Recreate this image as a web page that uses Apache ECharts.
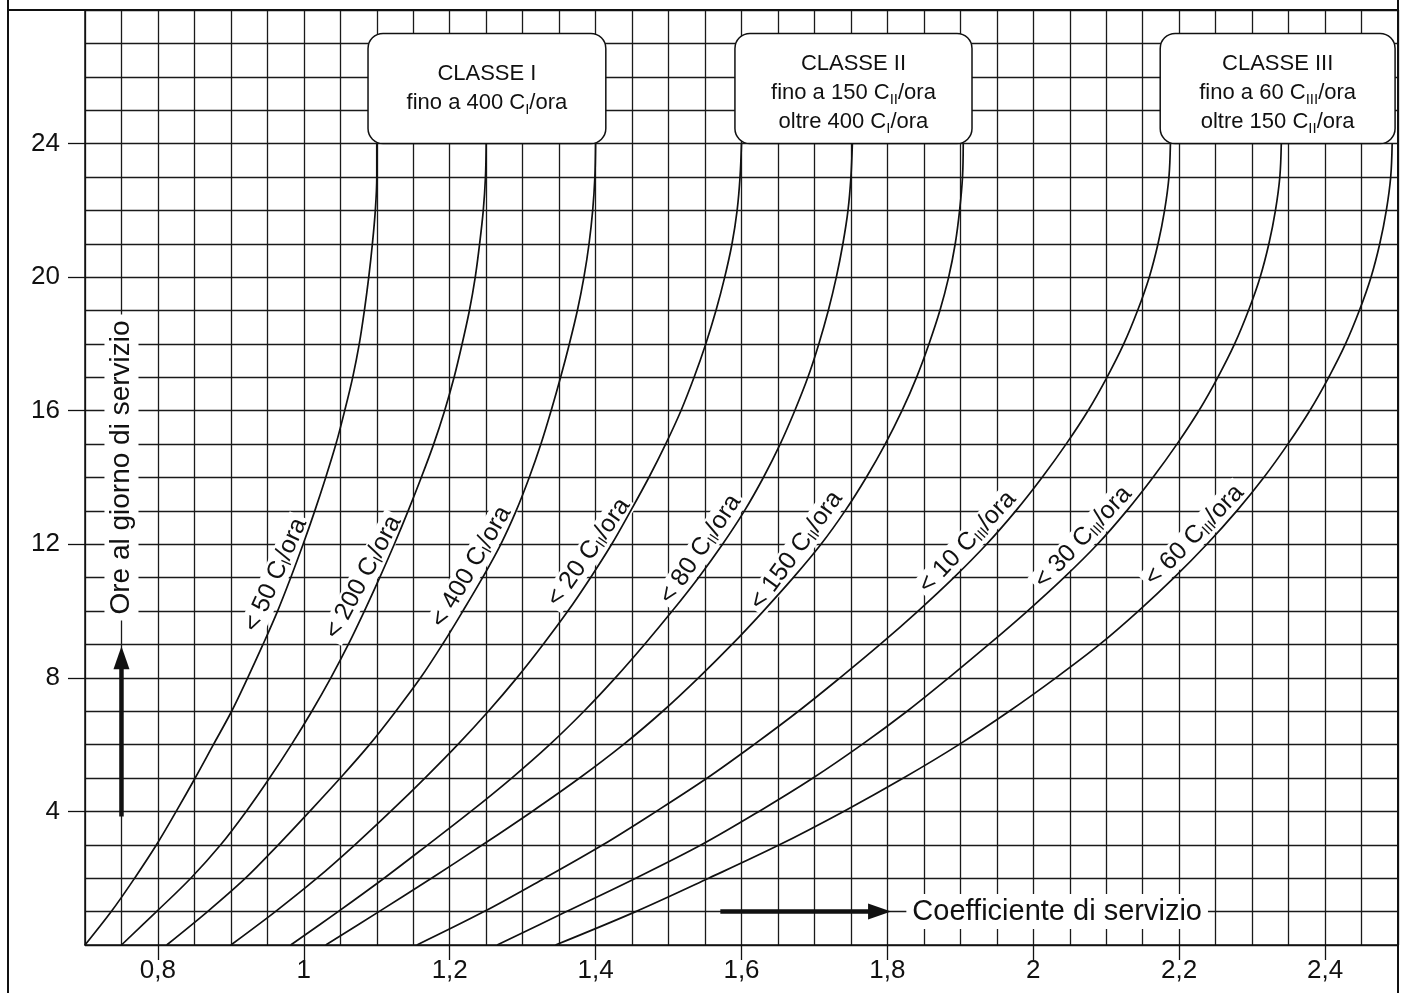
<!DOCTYPE html>
<html>
<head>
<meta charset="utf-8">
<script src="https://cdn.jsdelivr.net/npm/echarts@6/dist/echarts.min.js"></script>
<style>
html, body { margin: 0; padding: 0; background: #fff; }
#chart { width: 1403px; height: 993px; }
</style>
</head>
<body>
<div id="chart"></div>
<script>
// ore al giorno di servizio (asse y)
const hours = [0, 1, 2, 3, 4, 5, 6, 7, 8, 9, 10, 11, 12, 13, 14, 15, 16, 17, 18, 19, 20, 21, 22, 23, 24]

// coefficiente di servizio letto per ogni ora, una curva per fascia
const cI50 = [0.70, 0.736, 0.768, 0.798, 0.825, 0.851, 0.876, 0.901, 0.923, 0.944, 0.964, 0.982, 0.999, 1.015, 1.030, 1.044, 1.056, 1.067, 1.076, 1.083, 1.089, 1.094, 1.098, 1.100, 1.100]
const cI200 = [0.75, 0.798, 0.845, 0.886, 0.921, 0.953, 0.983, 1.011, 1.037, 1.061, 1.083, 1.104, 1.124, 1.143, 1.161, 1.178, 1.193, 1.206, 1.217, 1.227, 1.235, 1.241, 1.246, 1.249, 1.250]
const cI400 = [0.812, 0.868, 0.920, 0.965, 1.008, 1.050, 1.090, 1.126, 1.160, 1.190, 1.218, 1.245, 1.270, 1.291, 1.309, 1.325, 1.339, 1.352, 1.364, 1.375, 1.384, 1.391, 1.396, 1.399, 1.400]
const cII20 = [0.90, 0.961, 1.018, 1.070, 1.119, 1.166, 1.211, 1.253, 1.292, 1.328, 1.362, 1.393, 1.422, 1.448, 1.473, 1.496, 1.517, 1.535, 1.551, 1.565, 1.577, 1.587, 1.594, 1.598, 1.600]
const cII80 = [0.982, 1.047, 1.110, 1.170, 1.229, 1.285, 1.337, 1.384, 1.427, 1.467, 1.505, 1.541, 1.574, 1.604, 1.630, 1.653, 1.673, 1.691, 1.706, 1.719, 1.730, 1.739, 1.746, 1.750, 1.752]
const cII150 = [1.03, 1.103, 1.175, 1.245, 1.313, 1.378, 1.438, 1.492, 1.541, 1.587, 1.630, 1.671, 1.709, 1.742, 1.771, 1.797, 1.820, 1.840, 1.857, 1.872, 1.884, 1.893, 1.899, 1.903, 1.904]
const cIII10 = [1.155, 1.247, 1.330, 1.410, 1.483, 1.553, 1.617, 1.678, 1.735, 1.790, 1.842, 1.891, 1.936, 1.976, 2.012, 2.045, 2.075, 2.101, 2.124, 2.143, 2.159, 2.171, 2.180, 2.186, 2.188]
const cIII30 = [1.265, 1.360, 1.455, 1.545, 1.624, 1.698, 1.765, 1.827, 1.884, 1.939, 1.992, 2.042, 2.088, 2.128, 2.164, 2.197, 2.227, 2.253, 2.276, 2.295, 2.311, 2.323, 2.332, 2.338, 2.340]
const cIII60 = [1.345, 1.455, 1.555, 1.652, 1.740, 1.822, 1.898, 1.967, 2.031, 2.091, 2.144, 2.193, 2.238, 2.279, 2.316, 2.349, 2.379, 2.405, 2.428, 2.447, 2.463, 2.475, 2.484, 2.490, 2.492]

const xTicks = [0.8, 1, 1.2, 1.4, 1.6, 1.8, 2, 2.2, 2.4]
const yTicks = [4, 8, 12, 16, 20, 24]

const curveNames = ['< 50 C{s|I}/ora', '< 200 C{s|I}/ora', '< 400 C{s|I}/ora', '< 20 C{s|II}/ora', '< 80 C{s|II}/ora',
  '< 150 C{s|II}/ora', '< 10 C{s|III}/ora', '< 30 C{s|III}/ora', '< 60 C{s|III}/ora']
const classBoxes = [
  'CLASSE I\nfino a 400 C{s|I}/ora',
  'CLASSE II\nfino a 150 C{s|II}/ora\noltre 400 C{s|I}/ora',
  'CLASSE III\nfino a 60 C{s|III}/ora\noltre 150 C{s|II}/ora',
]

const FONT = "'Liberation Sans', Arial, Helvetica, sans-serif"
const INK = '#111'

const curves = [cI50, cI200, cI400, cII20, cII80, cII150, cIII10, cIII30, cIII60]

// scritte lungo le curve: ora del punto di appoggio sulla curva, rotazione in gradi
const labelSpots = [[10.9, 66], [10.8, 62], [11.1, 60], [11.5, 55], [11.6, 56], [11.55, 54], [11.75, 47], [11.9, 47], [11.95, 46]]
const labelGap = 15
// riquadri delle classi: [x0, x1] in coefficiente, tra y 24 e 27.3
const boxSpans = [[1.088, 1.414], [1.591, 1.916], [2.174, 2.496]]

const chart = echarts.init(document.getElementById('chart'))

const gridLine = { show: true, lineStyle: { color: '#1a1a1a', width: 1.3 } }
const hidden = { axisLine: { show: false }, axisTick: { show: false }, axisLabel: { show: false } }

const option = {
  animation: false,
  backgroundColor: '#fff',
  grid: { left: 85, right: 5, top: 10, bottom: 48 },
  xAxis: [{
    type: 'value', min: 0.7, max: 2.5, interval: 0.05,
    axisLine: { show: true, onZero: false, lineStyle: { color: INK, width: 1.5 } },
    axisTick: { show: true, customValues: xTicks, length: 15, lineStyle: { color: INK, width: 1.3 } },
    axisLabel: {
      customValues: xTicks, fontSize: 26, color: INK, fontFamily: FONT, margin: 13,
      formatter: v => String(v).replace('.', ','),
    },
    splitLine: { show: false },
  }, Object.assign({ type: 'value', min: 0.7, max: 2.5, interval: 0.05, position: 'bottom', splitLine: gridLine }, hidden)],
  yAxis: [{
    type: 'value', min: 0, max: 28, interval: 1,
    axisLine: { show: true, lineStyle: { color: INK, width: 1.5 } },
    axisTick: { show: true, customValues: yTicks, length: 17, lineStyle: { color: INK, width: 1.3 } },
    axisLabel: { customValues: yTicks, fontSize: 26, color: INK, fontFamily: FONT, margin: 25 },
    splitLine: { show: false },
  }, Object.assign({ type: 'value', min: 0, max: 28, interval: 1, position: 'left', splitLine: gridLine }, hidden)],
  series: curves.map((k, i) => ({
    type: 'line',
    name: curveNames[i],
    data: hours.map((h, j) => [k[j], h]),
    showSymbol: false,
    smooth: 0.35,
    silent: true,
    z: 3,
    lineStyle: { color: INK, width: 1.7 },
  })),
}
chart.setOption(option)

const px = (x, y) => chart.convertToPixel({ gridIndex: 0 }, [x, y])

function richText(subSize) {
  return {
    s: { fontSize: subSize, fontFamily: FONT, fill: INK, color: INK, verticalAlign: 'bottom', lineHeight: subSize + 1 },
  }
}

// punto della curva all'ora h (interpolato tra le letture)
function curveAt(k, h) {
  const i = Math.min(Math.floor(h), hours.length - 2)
  const t = h - hours[i]
  return k[i] + (k[i + 1] - k[i]) * t
}

function buildGraphic() {
  const g = []
  // cornice della figura
  const tl = px(0.7, 28)
  const br = px(2.5, 0)
  g.push({ type: 'line', z: 5, shape: { x1: 8, y1: 0, x2: 8, y2: 993 }, style: { stroke: INK, lineWidth: 2 } })
  g.push({ type: 'line', z: 5, shape: { x1: 8, y1: tl[1], x2: br[0], y2: tl[1] }, style: { stroke: INK, lineWidth: 2 } })
  g.push({ type: 'line', z: 5, shape: { x1: br[0], y1: 0, x2: br[0], y2: 993 }, style: { stroke: INK, lineWidth: 2 } })

  // riquadri classi
  boxSpans.forEach((s, i) => {
    const a = px(s[0], 27.3)
    const b = px(s[1], 24)
    const lines = classBoxes[i].split('\n').length
    g.push({
      type: 'rect', z: 4,
      shape: { x: a[0], y: a[1], width: b[0] - a[0], height: b[1] - a[1], r: 15 },
      style: { fill: '#fff', stroke: INK, lineWidth: 1.5 },
    })
    g.push({
      type: 'text', z: 4, x: (a[0] + b[0]) / 2, y: (a[1] + b[1]) / 2 + (lines > 2 ? 4 : 0),
      style: {
        text: classBoxes[i], fontSize: 22, fontFamily: FONT, fill: INK,
        align: 'center', verticalAlign: 'middle', textAlign: 'center', textVerticalAlign: 'middle',
        lineHeight: 29, rich: richText(15),
      },
    })
  })

  // scritte lungo le curve, spostate a sinistra della curva
  labelSpots.forEach((s, i) => {
    const h = s[0]
    const th = s[1] * Math.PI / 180
    const p = px(curveAt(curves[i], h), h)
    g.push({
      type: 'text', z: 1,
      x: p[0] - labelGap * Math.sin(th), y: p[1] - labelGap * Math.cos(th), rotation: th,
      style: {
        text: curveNames[i], fontSize: 25, fontFamily: FONT, fill: INK,
        align: 'center', verticalAlign: 'middle', textAlign: 'center', textVerticalAlign: 'middle',
        backgroundColor: '#fff', padding: [0, 3], lineHeight: 26, rich: richText(15),
      },
    })
  })

  // titolo asse x con freccia
  const xa0 = px(1.571, 1)
  const xa1 = px(1.805, 1)
  g.push({ type: 'line', z: 5, shape: { x1: xa0[0], y1: xa0[1], x2: xa1[0] - 18, y2: xa1[1] }, style: { stroke: INK, lineWidth: 4.5 } })
  g.push({
    type: 'polygon', z: 5,
    shape: { points: [[xa1[0], xa1[1]], [xa1[0] - 23, xa1[1] - 8], [xa1[0] - 23, xa1[1] + 8]] },
    style: { fill: INK },
  })
  const xt = px(1.826, 1)
  g.push({
    type: 'text', z: 1, x: xt[0], y: xt[1],
    style: {
      text: 'Coefficiente di servizio', fontSize: 29, fontFamily: FONT, fill: INK,
      align: 'left', verticalAlign: 'middle', textAlign: 'left', textVerticalAlign: 'middle',
      backgroundColor: '#fff', padding: [3, 6],
    },
  })

  // titolo asse y con freccia
  const ya0 = px(0.75, 3.85)
  const ya1 = px(0.75, 8.95)
  g.push({ type: 'line', z: 5, shape: { x1: ya0[0], y1: ya0[1], x2: ya1[0], y2: ya1[1] + 18 }, style: { stroke: INK, lineWidth: 4.5 } })
  g.push({
    type: 'polygon', z: 5,
    shape: { points: [[ya1[0], ya1[1]], [ya1[0] - 8, ya1[1] + 23], [ya1[0] + 8, ya1[1] + 23]] },
    style: { fill: INK },
  })
  const yt = px(0.75, 14.3)
  g.push({
    type: 'text', z: 1, x: yt[0], y: yt[1], rotation: Math.PI / 2,
    style: {
      text: 'Ore al giorno di servizio', fontSize: 28, fontFamily: FONT, fill: INK,
      align: 'center', verticalAlign: 'middle', textAlign: 'center', textVerticalAlign: 'middle',
      backgroundColor: '#fff', padding: [3, 6],
    },
  })
  return g
}

chart.setOption({ graphic: buildGraphic() })
</script>
</body>
</html>
